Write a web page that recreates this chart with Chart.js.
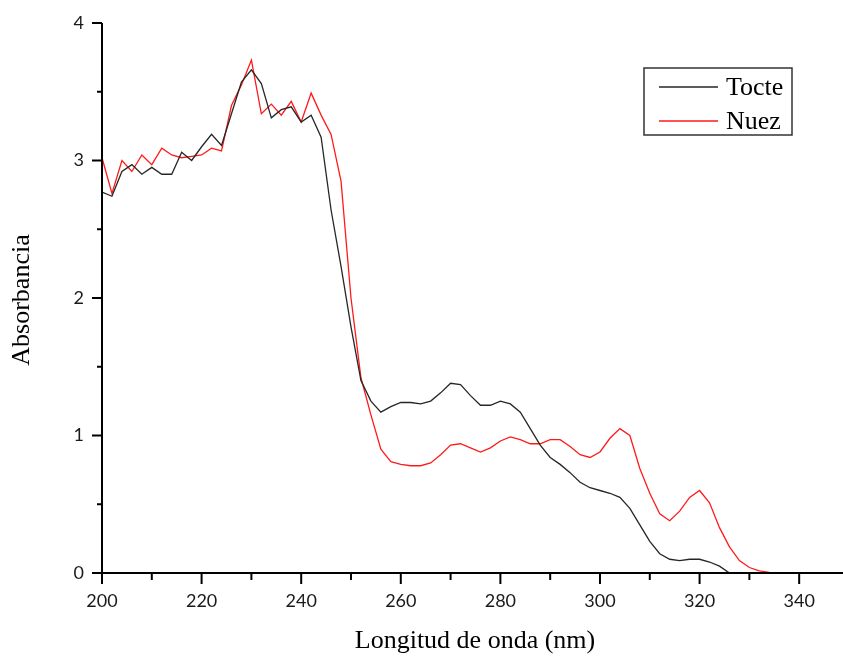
<!DOCTYPE html>
<html>
<head>
<meta charset="utf-8">
<title>Absorbancia</title>
<script src="https://cdn.jsdelivr.net/npm/chart.js@4.4.1/dist/chart.umd.min.js"></script>
<style>
  html, body { margin: 0; padding: 0; background: #fff; overflow: hidden; }
  canvas { display: block; }
</style>
</head>
<body>
<canvas id="spectrum" width="843" height="659"></canvas>
<script>
// longitudes de onda (nm)
const wavelengths = [
  200, 202, 204, 206, 208, 210, 212, 214, 216, 218,
  220, 222, 224, 226, 228, 230, 232, 234, 236, 238,
  240, 242, 244, 246, 248, 250, 252, 254, 256, 258,
  260, 262, 264, 266, 268, 270, 272, 274, 276, 278,
  280, 282, 284, 286, 288, 290, 292, 294, 296, 298,
  300, 302, 304, 306, 308, 310, 312, 314, 316, 318,
  320, 322, 324, 326, 328, 330, 332, 334, 336, 338
];

const tocte = [
  2.77, 2.74, 2.92, 2.97, 2.90, 2.95, 2.90, 2.90, 3.06, 3.00,
  3.10, 3.19, 3.11, 3.34, 3.57, 3.66, 3.56, 3.31, 3.37, 3.39,
  3.28, 3.33, 3.17, 2.64, 2.23, 1.79, 1.40, 1.25, 1.17, 1.21,
  1.24, 1.24, 1.23, 1.25, 1.31, 1.38, 1.37, 1.29, 1.22, 1.22,
  1.25, 1.23, 1.17, 1.05, 0.93, 0.84, 0.79, 0.73, 0.66, 0.62,
  0.60, 0.58, 0.55, 0.47, 0.35, 0.23, 0.14, 0.10, 0.09, 0.10,
  0.10, 0.08, 0.05, 0.00, null, null, null, null, null, null
];

const nuez = [
  3.02, 2.76, 3.00, 2.92, 3.04, 2.97, 3.09, 3.04, 3.02, 3.03,
  3.04, 3.09, 3.07, 3.40, 3.55, 3.73, 3.34, 3.41, 3.33, 3.43,
  3.28, 3.49, 3.33, 3.19, 2.85, 2.00, 1.42, 1.15, 0.90, 0.81,
  0.79, 0.78, 0.78, 0.80, 0.86, 0.93, 0.94, 0.91, 0.88, 0.91,
  0.96, 0.99, 0.97, 0.94, 0.94, 0.97, 0.97, 0.92, 0.86, 0.84,
  0.88, 0.98, 1.05, 1.00, 0.76, 0.58, 0.43, 0.38, 0.45, 0.55,
  0.60, 0.51, 0.33, 0.19, 0.09, 0.04, 0.015, 0.005, 0.00, 0.00
];

const seriesNames = ['Tocte', 'Nuez'];
const seriesColors = ['#262626', '#ff1a1a'];

const xTicks = [200, 220, 240, 260, 280, 300, 320, 340];
const xMinorTicks = [210, 230, 250, 270, 290, 310, 330];
const yTicks = [0, 1, 2, 3, 4];
const yMinorTicks = [0.5, 1.5, 2.5, 3.5];

const xTitle = 'Longitud de onda (nm)';
const yTitle = 'Absorbancia';

const SERIF = '"Liberation Serif", "DejaVu Serif", serif';
const SANS = 'Lato, "Open Sans", sans-serif';

function toPoints(values) {
  const pts = [];
  values.forEach((v, i) => {
    if (v !== null) pts.push({ x: wavelengths[i], y: v });
  });
  return pts;
}

// ejes estilo Origin: solo izquierda y abajo, marcas hacia afuera
const originAxes = {
  id: 'originAxes',
  afterDraw(chart) {
    const ctx = chart.ctx;
    const xs = chart.scales.x;
    const ys = chart.scales.y;
    const area = chart.chartArea;
    const y0 = ys.getPixelForValue(0);
    const x0 = xs.getPixelForValue(200);

    ctx.save();
    ctx.strokeStyle = '#000';
    ctx.lineWidth = 2;
    ctx.lineCap = 'butt';

    ctx.beginPath();
    ctx.moveTo(x0, area.top);
    ctx.lineTo(x0, y0);
    ctx.moveTo(x0 - 1, y0);
    ctx.lineTo(area.right, y0);
    ctx.stroke();

    ctx.beginPath();
    xTicks.forEach(v => {
      const px = xs.getPixelForValue(v);
      ctx.moveTo(px, y0);
      ctx.lineTo(px, y0 + 11);
    });
    xMinorTicks.forEach(v => {
      const px = xs.getPixelForValue(v);
      ctx.moveTo(px, y0);
      ctx.lineTo(px, y0 + 7);
    });
    yTicks.forEach(v => {
      const py = ys.getPixelForValue(v);
      ctx.moveTo(x0, py);
      ctx.lineTo(x0 - 10, py);
    });
    yMinorTicks.forEach(v => {
      const py = ys.getPixelForValue(v);
      ctx.moveTo(x0, py);
      ctx.lineTo(x0 - 5, py);
    });
    ctx.stroke();

    ctx.fillStyle = '#1a1a1a';
    ctx.font = '18px ' + SANS;
    ctx.textAlign = 'center';
    ctx.textBaseline = 'middle';
    xTicks.forEach(v => {
      ctx.fillText(String(v), xs.getPixelForValue(v), y0 + 28);
    });
    ctx.textAlign = 'right';
    yTicks.forEach(v => {
      ctx.fillText(String(v), x0 - 18, ys.getPixelForValue(v));
    });

    ctx.fillStyle = '#000';
    ctx.font = '26px ' + SERIF;
    ctx.textAlign = 'center';
    ctx.fillText(xTitle, 475, y0 + 68);

    ctx.translate(22, 300);
    ctx.rotate(-Math.PI / 2);
    ctx.fillText(yTitle, 0, 0);
    ctx.restore();

    // leyenda con recuadro
    ctx.save();
    const bx = 644, by = 68, bw = 148, bh = 67;
    ctx.strokeStyle = '#333';
    ctx.lineWidth = 1.5;
    ctx.strokeRect(bx, by, bw, bh);
    ctx.font = '26px ' + SERIF;
    ctx.textAlign = 'left';
    ctx.textBaseline = 'middle';
    chart.data.datasets.forEach((ds, i) => {
      const ly = by + 19 + i * 34;
      ctx.strokeStyle = ds.borderColor;
      ctx.lineWidth = 1.3;
      ctx.beginPath();
      ctx.moveTo(bx + 15, ly);
      ctx.lineTo(bx + 74, ly);
      ctx.stroke();
      ctx.fillStyle = '#000';
      ctx.fillText(ds.label, bx + 82, ly + 1);
    });
    ctx.restore();
  }
};

new Chart(document.getElementById('spectrum').getContext('2d'), {
  type: 'scatter',
  data: {
    datasets: [
      {
        label: seriesNames[0],
        data: toPoints(tocte),
        borderColor: seriesColors[0],
        backgroundColor: seriesColors[0],
        borderWidth: 1.3,
        showLine: true,
        pointRadius: 0,
        tension: 0
      },
      {
        label: seriesNames[1],
        data: toPoints(nuez),
        borderColor: seriesColors[1],
        backgroundColor: seriesColors[1],
        borderWidth: 1.3,
        showLine: true,
        pointRadius: 0,
        tension: 0
      }
    ]
  },
  options: {
    responsive: false,
    animation: false,
    layout: { padding: { left: 102, top: 23, right: 0, bottom: 86 } },
    scales: {
      x: { type: 'linear', min: 200, max: 348.8, display: false },
      y: { type: 'linear', min: 0, max: 4, display: false }
    },
    plugins: {
      legend: { display: false },
      tooltip: { enabled: false }
    }
  },
  plugins: [originAxes]
});
</script>
</body>
</html>
